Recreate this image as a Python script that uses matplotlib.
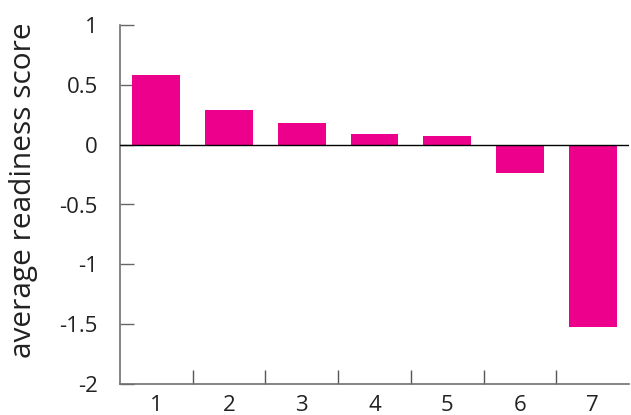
import matplotlib.pyplot as plt

categories = ['1', '2', '3', '4', '5', '6', '7']
scores = [0.58, 0.29, 0.18, 0.09, 0.07, -0.24, -1.52]
y_ticks = [1, 0.5, 0, -0.5, -1, -1.5, -2]
y_tick_labels = ['1', '0.5', '0', '-0.5', '-1', '-1.5', '-2']

plt.rcParams['font.family'] = ['Open Sans', 'DejaVu Sans']

fig = plt.figure(figsize=(6.31, 4.15), dpi=100)
ax = fig.add_axes([120 / 631, 31 / 415, 509 / 631, 359 / 415])

pos = list(range(1, len(categories) + 1))
ax.bar(pos, scores, width=0.66, color='#EC008C', zorder=2)
ax.axhline(0, color='black', linewidth=1, zorder=3)

ax.set_xlim(0.5, 7.5)
ax.set_ylim(-2, 1)
ax.set_yticks(y_ticks)
ax.set_yticklabels(y_tick_labels)

# category labels at bar centres, tick marks between categories
ax.set_xticks(pos)
ax.set_xticklabels(categories)
ax.set_xticks([p + 0.5 for p in pos[:-1]], minor=True)
ax.tick_params(axis='x', which='major', length=0, pad=8, labelsize=16, colors='#222222')
ax.tick_params(axis='x', which='minor', direction='in', length=10, width=1, color='#555555')
ax.tick_params(axis='y', direction='in', length=10, width=1, color='#666666',
               pad=16, labelsize=16, labelcolor='#222222')

for side in ['top', 'right']:
    ax.spines[side].set_visible(False)
for side in ['left', 'bottom']:
    ax.spines[side].set_color('#707070')
    ax.spines[side].set_linewidth(1.2)

fig.text(24 / 631, 1 - 190 / 415, 'average readiness score', rotation=90,
         ha='center', va='center', fontsize=21.5, color='#222222')

fig.savefig('out.png', dpi=100)
